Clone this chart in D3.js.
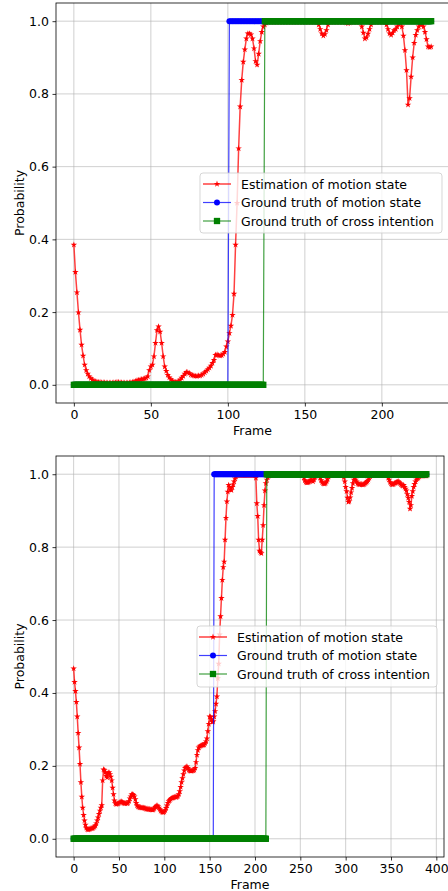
<!DOCTYPE html>
<html><head><meta charset="utf-8">
<script src="https://cdn.jsdelivr.net/npm/d3@7"></script>
<style>body{margin:0;background:#fff} svg{display:block} text{font-family:"DejaVu Sans",sans-serif}</style>
</head><body><svg id="c" width="448" height="891"></svg>
<script>
// ---------- DATA ----------
const topEstimation = [
0.385,0.31,0.254,0.199,0.151,0.11,0.08,0.055,0.04,0.03,
0.023,0.018,0.014,0.011,0.009,0.008,0.007,0.007,0.006,0.006,
0.006,0.005,0.005,0.005,0.005,0.005,0.006,0.006,0.007,0.007,
0.006,0.006,0.005,0.005,0.005,0.005,0.006,0.006,0.007,0.008,
0.01,0.012,0.013,0.014,0.015,0.016,0.017,0.019,0.023,0.04,
0.05,0.055,0.078,0.115,0.15,0.16,0.146,0.115,0.078,0.05,
0.038,0.027,0.02,0.015,0.011,0.008,0.007,0.008,0.01,0.014,
0.019,0.024,0.03,0.035,0.034,0.032,0.028,0.026,0.025,0.024,
0.024,0.025,0.025,0.027,0.03,0.034,0.038,0.042,0.047,0.052,
0.06,0.068,0.082,0.083,0.081,0.08,0.081,0.085,0.09,0.105,
0.119,0.142,0.162,0.192,0.25,0.385,0.5,0.65,0.765,0.838,
0.888,0.922,0.952,0.966,0.966,0.963,0.952,0.925,0.89,0.88,
0.91,0.945,0.97,0.985,0.99,0.995,0.998,0.998,0.998,0.998,
0.998,0.998,0.998,0.998,0.998,0.998,0.998,0.998,0.998,0.998,
0.998,0.998,0.998,0.998,0.998,0.998,0.998,0.998,0.998,0.998,
0.998,0.998,0.998,0.998,0.998,0.998,0.998,0.998,0.998,0.99,
0.978,0.966,0.96,0.964,0.975,0.99,0.998,0.998,0.998,0.998,
0.998,0.998,0.998,0.998,0.998,0.998,0.998,0.996,0.994,0.996,
0.998,0.998,0.998,0.998,0.998,0.998,0.998,0.985,0.968,0.952,
0.955,0.965,0.978,0.99,0.998,0.998,0.998,0.998,0.998,0.998,
0.998,0.998,0.998,0.99,0.978,0.966,0.962,0.968,0.975,0.978,
0.985,0.992,0.995,0.985,0.96,0.92,0.865,0.77,0.788,0.847,
0.9,0.94,0.962,0.975,0.985,0.99,0.992,0.985,0.97,0.95,
0.93,0.928,0.93
];
// ground truth as run-length pairs [value, number of frames]
const topMotionRuns = [[0,101],[1,132]];
const topCrossRuns = [[0,124],[1,109]];

const bottomEstimation = [
0.467,0.43,0.405,0.375,0.335,0.29,0.25,0.205,0.155,0.115,
0.085,0.065,0.05,0.038,0.03,0.026,0.025,0.026,0.027,0.028,
0.028,0.029,0.031,0.033,0.036,0.042,0.05,0.058,0.068,0.077,
0.085,0.092,0.16,0.19,0.188,0.182,0.172,0.168,0.18,0.182,
0.177,0.17,0.16,0.14,0.122,0.105,0.097,0.095,0.096,0.096,
0.098,0.1,0.101,0.102,0.1,0.098,0.097,0.097,0.098,0.097,
0.098,0.103,0.11,0.116,0.121,0.122,0.12,0.116,0.108,0.098,
0.091,0.088,0.087,0.086,0.086,0.085,0.085,0.085,0.084,0.083,
0.082,0.082,0.081,0.081,0.081,0.08,0.08,0.079,0.08,0.083,
0.087,0.09,0.091,0.089,0.085,0.081,0.077,0.075,0.073,0.072,
0.074,0.078,0.084,0.091,0.098,0.103,0.106,0.109,0.111,0.112,
0.113,0.114,0.115,0.114,0.115,0.117,0.122,0.13,0.142,0.155,
0.166,0.177,0.187,0.194,0.197,0.198,0.194,0.189,0.187,0.186,
0.186,0.187,0.187,0.189,0.194,0.21,0.23,0.243,0.25,0.253,
0.255,0.256,0.257,0.257,0.258,0.262,0.267,0.275,0.295,0.315,
0.335,0.334,0.328,0.32,0.322,0.335,0.35,0.37,0.39,0.44,
0.48,0.56,0.61,0.66,0.71,0.745,0.76,0.82,0.88,0.925,
0.952,0.97,0.965,0.958,0.956,0.965,0.972,0.98,0.988,0.993,
0.997,0.997,0.997,0.997,0.997,0.997,0.997,0.997,0.997,0.997,
0.997,0.997,0.997,0.997,0.997,0.997,0.997,0.997,0.997,0.997,
0.997,0.99,0.92,0.885,0.82,0.79,0.786,0.783,0.82,0.86,
0.915,0.955,0.975,0.985,0.992,0.995,0.997,0.997,0.997,0.997,
0.997,0.997,0.997,0.997,0.997,0.997,0.997,0.997,0.997,0.997,
0.997,0.997,0.997,0.997,0.997,0.997,0.997,0.997,0.997,0.997,
0.997,0.997,0.997,0.997,0.997,0.997,0.997,0.997,0.997,0.997,
0.997,0.997,0.997,0.997,0.99,0.983,0.979,0.977,0.977,0.978,
0.98,0.983,0.985,0.983,0.98,0.985,0.992,0.996,0.996,0.996,
0.996,0.996,0.99,0.983,0.978,0.975,0.974,0.974,0.976,0.98,
0.986,0.993,0.997,0.997,0.997,0.997,0.997,0.997,0.997,0.997,
0.997,0.997,0.997,0.997,0.997,0.997,0.997,0.997,0.992,0.98,
0.965,0.953,0.935,0.924,0.926,0.936,0.95,0.962,0.975,0.985,
0.99,0.985,0.98,0.975,0.973,0.972,0.972,0.973,0.972,0.971,
0.972,0.974,0.976,0.978,0.981,0.985,0.99,0.994,0.997,0.997,
0.997,0.997,0.997,0.997,0.997,0.997,0.997,0.997,0.997,0.997,
0.997,0.997,0.997,0.997,0.997,0.997,0.997,0.99,0.985,0.978,
0.974,0.972,0.972,0.973,0.975,0.976,0.978,0.979,0.98,0.978,
0.975,0.972,0.97,0.968,0.97,0.965,0.96,0.955,0.945,0.935,
0.924,0.905,0.915,0.94,0.953,0.965,0.973,0.98,0.985,0.988,
0.99,0.993,0.996,0.996,0.996,0.996,0.996,0.996,0.996,0.996
];
const bottomMotionRuns = [[0,155],[1,235]];
const bottomCrossRuns = [[0,213],[1,177]];

const topXTicks = [0,50,100,150,200];
const bottomXTicks = [0,50,100,150,200,250,300,350,400];
const yTicks = [0,0.2,0.4,0.6,0.8,1.0];
const legendLabels = ["Estimation of motion state","Ground truth of motion state","Ground truth of cross intention"];
const xLabel = "Frame";
const yLabel = "Probability";

// ---------- DRAW ----------
function expandRuns(runs){const out=[];runs.forEach(([v,n])=>{for(let i=0;i<n;i++)out.push(v);});return out;}

const svg = d3.select("#c");
const FS = 12.5;
const RED="#ff0000", BLUE="#0000ff", GREEN="#008000";
const STAR=13, CIRC=28, SQ=40;

function panel(cfg){
  const {left,right,top,bottom,xDomain,est,motion,cross,xTicks,legend} = cfg;
  const x = d3.scaleLinear().domain(xDomain).range([left,right]);
  const y = d3.scaleLinear().domain([-0.05,1.05]).range([bottom,top]);
  const g = svg.append("g");
  const clipId = "clip"+top;
  svg.append("clipPath").attr("id",clipId).append("rect")
    .attr("x",left).attr("y",top).attr("width",right-left).attr("height",bottom-top);

  // grid
  const grid = g.append("g").attr("stroke","#b0b0b0").attr("stroke-opacity",0.6).attr("stroke-width",1);
  xTicks.forEach(t=>grid.append("line").attr("x1",x(t)).attr("x2",x(t)).attr("y1",top).attr("y2",bottom));
  yTicks.forEach(t=>grid.append("line").attr("x1",left).attr("x2",right).attr("y1",y(t)).attr("y2",y(t)));

  const plot = g.append("g").attr("clip-path",`url(#${clipId})`);
  const line = d3.line().x((d,i)=>x(i)).y(d=>y(d));

  function series(data,color,symbol,size,lw){
    plot.append("path").datum(data).attr("d",line).attr("fill","none")
      .attr("stroke",color).attr("stroke-width",lw).attr("stroke-opacity",0.75);
    const sym = d3.symbol().type(symbol).size(size)();
    plot.append("g").selectAll("path").data(data).join("path")
      .attr("transform",(d,i)=>`translate(${x(i)},${y(d)})`)
      .attr("d",sym).attr("fill",color);
  }
  series(est,RED,d3.symbolStar,STAR,1.5);
  series(motion,BLUE,d3.symbolCircle,CIRC,1.2);
  series(cross,GREEN,d3.symbolSquare,SQ,1.2);

  // axes
  const xa = g.append("g").attr("transform",`translate(0,${bottom})`)
    .call(d3.axisBottom(x).tickValues(xTicks).tickSize(3.5).tickPadding(3.5).tickFormat(d3.format("d")));
  const ya = g.append("g").attr("transform",`translate(${left},0)`)
    .call(d3.axisLeft(y).tickValues(yTicks).tickSize(3.5).tickPadding(3.5).tickFormat(d3.format(".1f")));
  [xa,ya].forEach(a=>{
    a.select(".domain").remove();
    a.selectAll("line").attr("stroke","#000").attr("stroke-width",0.8);
    a.selectAll("text").attr("font-size",FS).attr("fill","#000").attr("font-family","DejaVu Sans");
  });
  // spines
  g.append("rect").attr("x",left).attr("y",top).attr("width",right-left).attr("height",bottom-top)
    .attr("fill","none").attr("stroke","#000").attr("stroke-width",0.8);

  g.append("text").attr("x",(left+right)/2).attr("y",bottom+31.5).attr("text-anchor","middle")
    .attr("font-size",FS).text(xLabel);
  g.append("text").attr("transform",`translate(24,${(top+bottom)/2}) rotate(-90)`)
    .attr("text-anchor","middle").attr("font-size",FS).text(yLabel);

  // legend
  const L = g.append("g");
  L.append("rect").attr("x",legend.x).attr("y",legend.y).attr("width",legend.w).attr("height",legend.h)
    .attr("rx",3).attr("fill","#fff").attr("fill-opacity",0.8).attr("stroke","#cccccc").attr("stroke-opacity",0.8);
  const specs = [[RED,d3.symbolStar,STAR,1.5],[BLUE,d3.symbolCircle,CIRC,1.2],[GREEN,d3.symbolSquare,SQ,1.2]];
  specs.forEach(([c,s,sz,lw],i)=>{
    const cy = legend.row0 + i*legend.dy;
    L.append("line").attr("x1",legend.hx).attr("x2",legend.hx+28).attr("y1",cy).attr("y2",cy)
      .attr("stroke",c).attr("stroke-width",lw).attr("stroke-opacity",0.75);
    L.append("path").attr("d",d3.symbol().type(s).size(sz)()).attr("transform",`translate(${legend.hx+14},${cy})`).attr("fill",c);
    L.append("text").attr("x",legend.tx).attr("y",cy).attr("dy","0.36em").attr("font-size",FS).text(legendLabels[i]);
  });
}

panel({left:56,right:449,top:3,bottom:403,xDomain:[-11.6,243.6],
  est:topEstimation,motion:expandRuns(topMotionRuns),cross:expandRuns(topCrossRuns),xTicks:topXTicks,
  legend:{x:200,y:173,w:242,h:60,row0:184,dy:18.5,hx:203,tx:241}});
panel({left:56,right:444,top:456,bottom:857,xDomain:[-19.45,408.45],
  est:bottomEstimation,motion:expandRuns(bottomMotionRuns),cross:expandRuns(bottomCrossRuns),xTicks:bottomXTicks,
  legend:{x:197,y:626,w:240,h:61,row0:637,dy:18.5,hx:199,tx:237}});
</script></body></html>
